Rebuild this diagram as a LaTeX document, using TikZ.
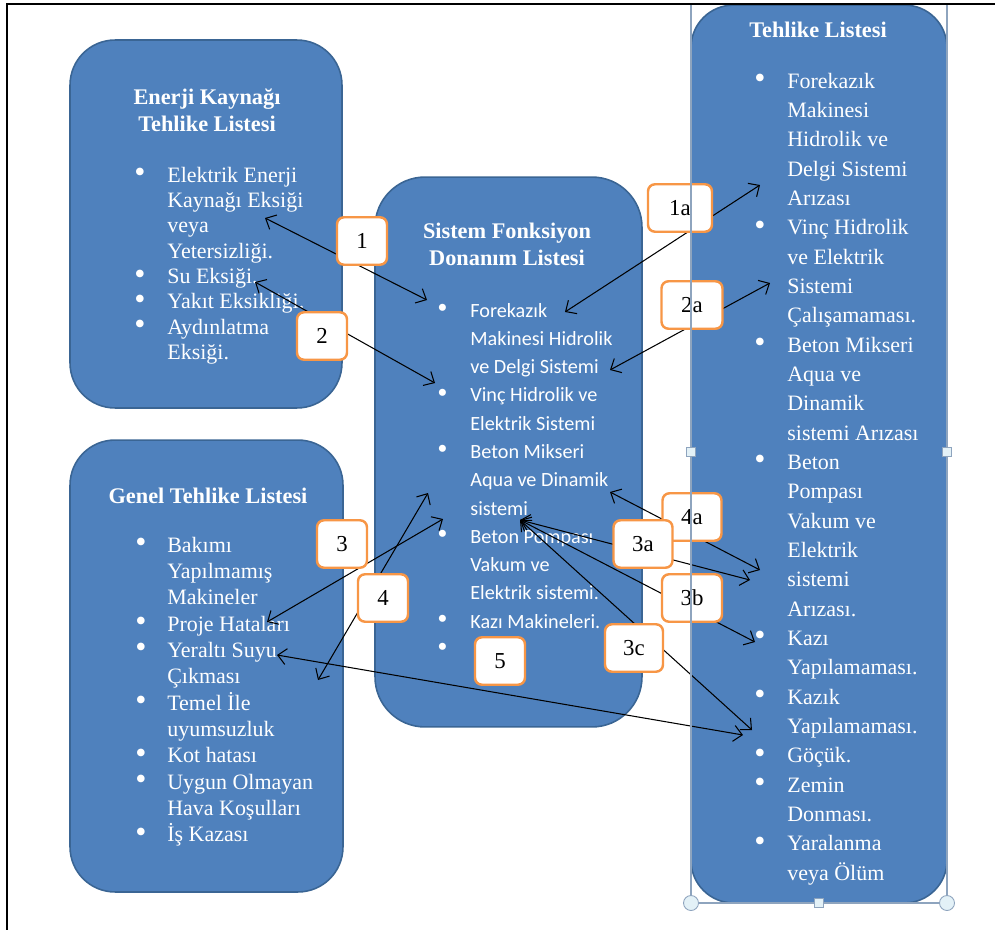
\documentclass[tikz,border=0pt]{standalone}
\usepackage{fontspec}
\setmainfont{Liberation Serif}
\newfontfamily\calibrifont{Carlito}
\usepackage{xcolor}
\usepackage{tikz}
\usetikzlibrary{arrows.meta, positioning}

\definecolor{boxblue}{HTML}{4F81BD}
\definecolor{boxedge}{HTML}{3A6594}
\definecolor{numorange}{HTML}{F79646}
\definecolor{selgray}{HTML}{8EA4BE}
\definecolor{handlefill}{HTML}{E3F1F7}

\newcommand{\hbul}{\raisebox{-0.05ex}{\scalebox{1.45}{\textbullet}}}

\begin{document}
\begin{tikzpicture}[
    x=0.02cm, y=-0.02cm,
    >={Straight Barb[length=1.7mm, width=3.2mm]},
    listbox/.style={draw=boxedge, fill=boxblue, line width=0.9pt, rounded corners=0.9cm, inner sep=0pt},
    numbox/.style={draw=numorange, fill=white, line width=1.4pt, rounded corners=4pt, minimum width=1cm, minimum height=0.95cm, inner sep=0pt, font=\fontsize{13}{15}\selectfont},
    boxtitle/.style={text=white, inner sep=0pt, anchor=base, font=\fontsize{12.7}{15}\selectfont\bfseries},
    hazlist/.style={text=white, inner sep=0pt, anchor=base west},
    link/.style={<->, line width=0.6pt, draw=black},
    handle/.style={draw=selgray, fill=handlefill, inner sep=0pt, line width=0.5pt}
]
\useasboundingbox (0,0) rectangle (995,930);

% Boxes
\node[listbox, minimum width=5.44cm, minimum height=7.36cm] (enerji) at (206,224) {};
\node[listbox, minimum width=5.46cm, minimum height=9.04cm] (genel) at (206.5,666) {};
\node[listbox, minimum width=5.34cm, minimum height=11cm, rounded corners=1cm] (sistem) at (508.5,452) {};
\node[listbox, minimum width=5.12cm, minimum height=17.96cm, rounded corners=0.85cm] (tehlike) at (819,454) {};

% Titles
\node[boxtitle] (enerjititle) at (207,104) {\begin{tabular}[t]{@{}c@{}}Enerji Kaynağı\\[0.6pt]Tehlike Listesi\end{tabular}};
\node[boxtitle] (geneltitle) at (208,503) {Genel Tehlike Listesi};
\node[boxtitle] (sistemtitle) at (507,238) {\begin{tabular}[t]{@{}c@{}}Sistem Fonksiyon\\[0.4pt]Donanım Listesi\end{tabular}};
\node[boxtitle] (tehliketitle) at (818,37) {Tehlike Listesi};

% Lists
\node[hazlist, font=\fontsize{12.5}{14.45}\selectfont] (enerjiitems) at (134,182) {%
  \begin{tabular}[t]{@{}p{18.8pt}@{}l@{}}
    \hbul & Elektrik Enerji\\
    & Kaynağı Eksiği\\
    & veya\\
    & Yetersizliği.\\
    \hbul & Su Eksiği.\\
    \hbul & Yakıt Eksikliği.\\
    \hbul & Aydınlatma\\
    & Eksiği.
  \end{tabular}};

\node[hazlist, font=\fontsize{12.5}{15}\selectfont] (genelitems) at (135,552) {%
  \begin{tabular}[t]{@{}p{18.2pt}@{}l@{}}
    \hbul & Bakımı\\
    & Yapılmamış\\
    & Makineler\\
    \hbul & Proje Hataları\\
    \hbul & Yeraltı Suyu\\
    & Çıkması\\
    \hbul & Temel İle\\
    & uyumsuzluk\\
    \hbul & Kot hatası\\
    \hbul & Uygun Olmayan\\
    & Hava Koşulları\\
    \hbul & İş Kazası
  \end{tabular}};

\node[hazlist, font=\fontsize{11.5}{16.1}\selectfont] (sistemitems) at (437,317) {%
  \begin{tabular}[t]{@{}p{18.8pt}@{}l@{}}
    \hbul & \calibrifont Forekazık\\
    & \calibrifont Makinesi Hidrolik\\
    & \calibrifont ve Delgi Sistemi\\
    \hbul & \calibrifont Vinç Hidrolik ve\\
    & \calibrifont Elektrik Sistemi\\
    \hbul & \calibrifont Beton Mikseri\\
    & \calibrifont Aqua ve Dinamik\\
    & \calibrifont sistemi\\
    \hbul & \calibrifont Beton Pompası\\
    & \calibrifont Vakum ve\\
    & \calibrifont Elektrik sistemi.\\
    \hbul & \calibrifont Kazı Makineleri.\\
    \hbul &
  \end{tabular}};

\node[hazlist, font=\fontsize{12.5}{16.7}\selectfont] (tehlikeitems) at (754,88) {%
  \begin{tabular}[t]{@{}p{18.8pt}@{}l@{}}
    \hbul & Forekazık\\
    & Makinesi\\
    & Hidrolik ve\\
    & Delgi Sistemi\\
    & Arızası\\
    \hbul & Vinç Hidrolik\\
    & ve Elektrik\\
    & Sistemi\\
    & Çalışamaması.\\
    \hbul & Beton Mikseri\\
    & Aqua ve\\
    & Dinamik\\
    & sistemi Arızası\\
    \hbul & Beton\\
    & Pompası\\
    & Vakum ve\\
    & Elektrik\\
    & sistemi\\
    & Arızası.\\
    \hbul & Kazı\\
    & Yapılamaması.\\
    \hbul & Kazık\\
    & Yapılamaması.\\
    \hbul & Göçük.\\
    \hbul & Zemin\\
    & Donması.\\
    \hbul & Yaralanma\\
    & veya Ölüm
  \end{tabular}};

% Link ends
\coordinate (e1) at (265,218);
\coordinate (e2) at (255,282);
\coordinate (g3) at (267,622);
\coordinate (g4) at (318,680);
\coordinate (g5) at (277,655);
\coordinate (s1) at (427,300);
\coordinate (s2) at (435,383);
\coordinate (s1a) at (565,312);
\coordinate (s2a) at (610,370);
\coordinate (s3) at (443,519);
\coordinate (s4) at (428,493);
\coordinate (s4a) at (610,492);
\coordinate (s3x) at (520,520);
\coordinate (t1a) at (760,185);
\coordinate (t2a) at (770,283);
\coordinate (t4a) at (760,570);
\coordinate (t3a) at (750,580);
\coordinate (t3b) at (755,642);
\coordinate (t3c) at (752,730);
\coordinate (t5) at (743,735);

% Links
\draw[link] (e1) -- (s1);
\draw[link] (e2) -- (s2);
\draw[link] (s1a) -- (t1a);
\draw[link] (s2a) -- (t2a);
\draw[link] (g3) -- (s3);
\draw[link] (g4) -- (s4);
\draw[link] (g5) -- (t5);
\draw[link] (s4a) -- (t4a);
\draw[link] (s3x) -- (t3a);
\draw[link] (s3x) -- (t3b);
\draw[link] (s3x) -- (t3c);

% Numbers
\node[numbox] (n1) at (362,241) {1};
\node[numbox] (n2) at (322,336) {2};
\node[numbox, minimum width=1.28cm] (n1a) at (680,208) {1a};
\node[numbox, minimum width=1.22cm] (n2a) at (692,305) {2a};
\node[numbox] (n3) at (342,544) {3};
\node[numbox] (n4) at (383,598) {4};
\node[numbox, minimum width=1.18cm] (n4a) at (692,517) {4a};
\node[numbox, minimum width=1.18cm] (n3a) at (643,544) {3a};
\node[numbox, minimum width=1.2cm] (n3b) at (692,598) {3b};
\node[numbox, minimum width=1.16cm] (n3c) at (634,648) {3c};
\node[numbox] (n5) at (500,661) {5};

% Selection frame
\draw[selgray, line width=0.6pt] (691,5) |- (947,903) -- (947,5);
\node[handle, minimum size=0.19cm] (hl) at (691,452) {};
\node[handle, minimum size=0.19cm] (hr) at (947,452) {};
\node[handle, minimum size=0.19cm] (hb) at (819,903) {};
\node[handle, circle, minimum size=0.3cm] (hbl) at (691,903) {};
\node[handle, circle, minimum size=0.3cm] (hbr) at (947,903) {};

% Frame
\draw[line width=1.2pt] (7,930) -- (7,4) -- (995,4);

\end{tikzpicture}
\end{document}
